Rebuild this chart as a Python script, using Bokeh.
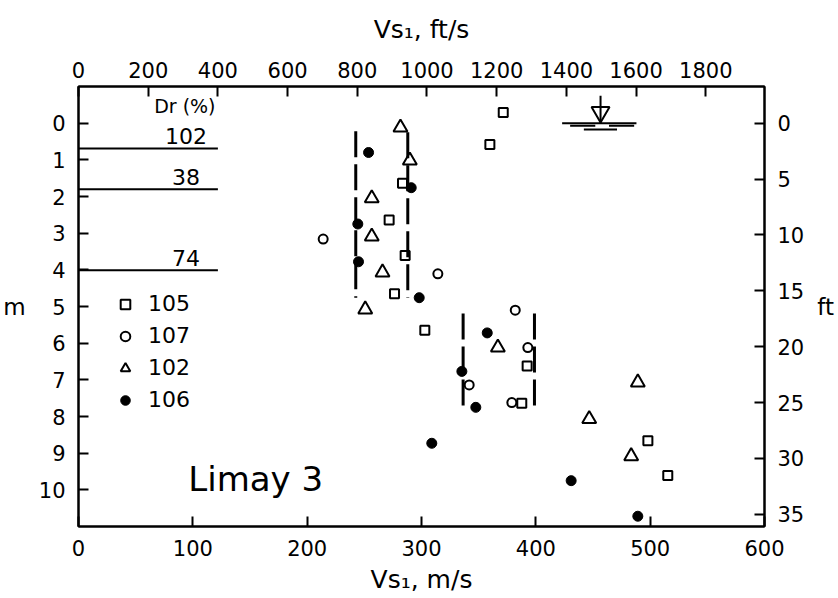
from bokeh.plotting import figure
from bokeh.models import Range1d, LinearAxis, FixedTicker, Label, Legend, LegendItem
from bokeh.embed import file_html
from bokeh.resources import INLINE

FT = 0.3048
FONT = "DejaVu Sans"

# ---- data (Vs1 in m/s, depth in m) ----
vs_105 = [371.5, 359.8, 283.4, 271.7, 285.7, 276.4, 302.9, 392.4, 387.7, 498.0, 515.4]
dep_105 = [-0.29, 0.58, 1.64, 2.64, 3.61, 4.65, 5.65, 6.62, 7.64, 8.66, 9.61]

vs_107 = [214.0, 314.3, 382.0, 393.0, 341.7, 379.0]
dep_107 = [3.16, 4.11, 5.10, 6.12, 7.14, 7.62]

vs_102 = [281.6, 289.8, 256.5, 256.5, 265.9, 250.8, 366.8, 489.2, 446.7, 483.4]
dep_102 = [0.12, 1.02, 2.05, 3.09, 4.07, 5.08, 6.12, 7.07, 8.07, 9.08]

vs_106 = [253.7, 291.0, 244.3, 244.9, 298.0, 357.5, 335.3, 347.5, 309.0, 430.9, 489.2]
dep_106 = [0.80, 1.76, 2.75, 3.78, 4.76, 5.72, 6.77, 7.75, 8.73, 9.75, 10.72]

# range bars (dashed vertical lines)
bar_vs = [242.5, 288.0, 336.4, 398.8]
bar_top = [0.22, 0.25, 5.19, 5.19]
bar_bot = [4.76, 4.76, 7.75, 7.75]

# relative density layers
dr_bounds = [0.69, 1.80, 4.01]
dr_labels = ["102", "38", "74"]
dr_label_depth = [0.35, 1.47, 3.67]
dr_x_end = 400 * FT

# water table symbol
wt_vs = 456.6
wt_depth = 0.0
wt_lines_x0 = [423.0, 430.0, 464.0, 442.0]
wt_lines_x1 = [488.0, 452.0, 486.0, 471.0]
wt_lines_y = [0.0, 0.07, 0.07, 0.17]

bottom_ticks = [0, 100, 200, 300, 400, 500, 600]
top_ticks_fts = [0, 200, 400, 600, 800, 1000, 1200, 1400, 1600, 1800]
left_ticks = [0, 1, 2, 3, 4, 5, 6, 7, 8, 9, 10]
right_ticks_ft = [0, 5, 10, 15, 20, 25, 30, 35]

X_MIN, X_MAX = 0, 600
D_MIN, D_MAX = -1, 11

p = figure(width=838, height=596, output_backend="svg", toolbar_location=None,
           x_range=Range1d(X_MIN, X_MAX), y_range=Range1d(D_MAX, D_MIN),
           min_border_left=78, min_border_right=74, min_border_top=86, min_border_bottom=68,
           background_fill_color="white", border_fill_color="white")
p.extra_x_ranges = {"fts": Range1d(X_MIN / FT, X_MAX / FT)}
p.extra_y_ranges = {"ft": Range1d(D_MAX / FT, D_MIN / FT)}
p.grid.visible = False
p.outline_line_color = "black"
p.outline_line_width = 2


def style(ax, size="21px"):
    ax.major_tick_in = 10
    ax.major_tick_out = 0
    ax.minor_tick_line_color = None
    ax.axis_line_width = 2
    ax.axis_line_color = "black"
    ax.major_tick_line_width = 2
    ax.major_tick_line_color = "black"
    ax.major_label_text_font = FONT
    ax.major_label_text_font_size = size
    ax.major_label_text_color = "black"
    ax.axis_label_text_font = FONT
    ax.axis_label_text_font_size = "25px"
    ax.axis_label_text_font_style = "normal"
    ax.axis_label_text_color = "black"


xb = p.xaxis[0]
xb.ticker = FixedTicker(ticks=bottom_ticks)
xb.axis_label = "Vs₁, m/s"
style(xb)
xb.major_label_standoff = 13
xb.axis_label_standoff = 6

yl = p.yaxis[0]
yl.ticker = FixedTicker(ticks=left_ticks)
style(yl)
yl.major_label_standoff = 13
yl.axis_label = "m"
yl.axis_label_orientation = "horizontal"
yl.axis_label_standoff = 10
yl.axis_label_text_font_size = "23px"

xt = LinearAxis(x_range_name="fts", ticker=FixedTicker(ticks=top_ticks_fts), axis_label="Vs₁, ft/s")
style(xt)
xt.major_label_standoff = 9
xt.axis_label_standoff = 15
p.add_layout(xt, "above")

yr = LinearAxis(y_range_name="ft", ticker=FixedTicker(ticks=right_ticks_ft))
style(yr)
yr.major_label_standoff = 13
yr.axis_label = "ft"
yr.axis_label_orientation = "horizontal"
yr.axis_label_standoff = 10
yr.axis_label_text_font_size = "23px"
p.add_layout(yr, "right")

# Dr layers
p.segment(x0=[0] * len(dr_bounds), x1=[dr_x_end] * len(dr_bounds), y0=dr_bounds, y1=dr_bounds,
          line_color="black", line_width=2)
for lab, d in zip(dr_labels, dr_label_depth):
    p.add_layout(Label(x=94, y=d, text=lab, text_align="center", text_baseline="middle",
                       text_font=FONT, text_font_size="22px", text_color="black"))
p.add_layout(Label(x=93, y=-0.46, text="Dr (%)", text_align="center", text_baseline="middle",
                   text_font=FONT, text_font_size="19px", text_color="black"))

# range bars
p.segment(x0=bar_vs, x1=bar_vs, y0=bar_top, y1=bar_bot, line_color="black",
          line_width=3, line_dash="26 7")

# water table
p.segment(x0=wt_lines_x0, x1=wt_lines_x1, y0=wt_lines_y, y1=wt_lines_y, line_color="black", line_width=2)
p.segment(x0=[wt_vs], x1=[wt_vs], y0=[wt_depth - 0.75], y1=[wt_depth], line_color="black", line_width=2)
p.scatter(x=[wt_vs], y=[wt_depth - 0.3], marker="inverted_triangle", size=18,
          fill_color=None, line_color="black", line_width=2)

# data series
r105 = p.scatter(x=vs_105, y=dep_105, marker="square", size=9, fill_color=None,
                 line_color="black", line_width=2)
r107 = p.scatter(x=vs_107, y=dep_107, marker="circle", size=9, fill_color=None,
                 line_color="black", line_width=2)
r102 = p.scatter(x=vs_102, y=dep_102, marker="triangle", size=14, fill_color=None,
                 line_color="black", line_width=2)
r106 = p.scatter(x=vs_106, y=dep_106, marker="circle", size=10, fill_color="black",
                 line_color="black", line_width=1)

legend = Legend(items=[LegendItem(label="105", renderers=[r105]),
                       LegendItem(label="107", renderers=[r107]),
                       LegendItem(label="102", renderers=[r102]),
                       LegendItem(label="106", renderers=[r106])],
                location=(25, 104), border_line_alpha=0, background_fill_alpha=0,
                glyph_width=24, glyph_height=24, label_height=24, spacing=7, padding=10,
                label_standoff=11, label_text_font=FONT, label_text_font_size="22px",
                label_text_color="black", margin=0)
p.add_layout(legend)

p.add_layout(Label(x=96, y=9.7, text="Limay 3", text_align="left", text_baseline="middle",
                   text_font=FONT, text_font_size="34px", text_color="black"))

open("out.html", "w").write(file_html(p, INLINE))
